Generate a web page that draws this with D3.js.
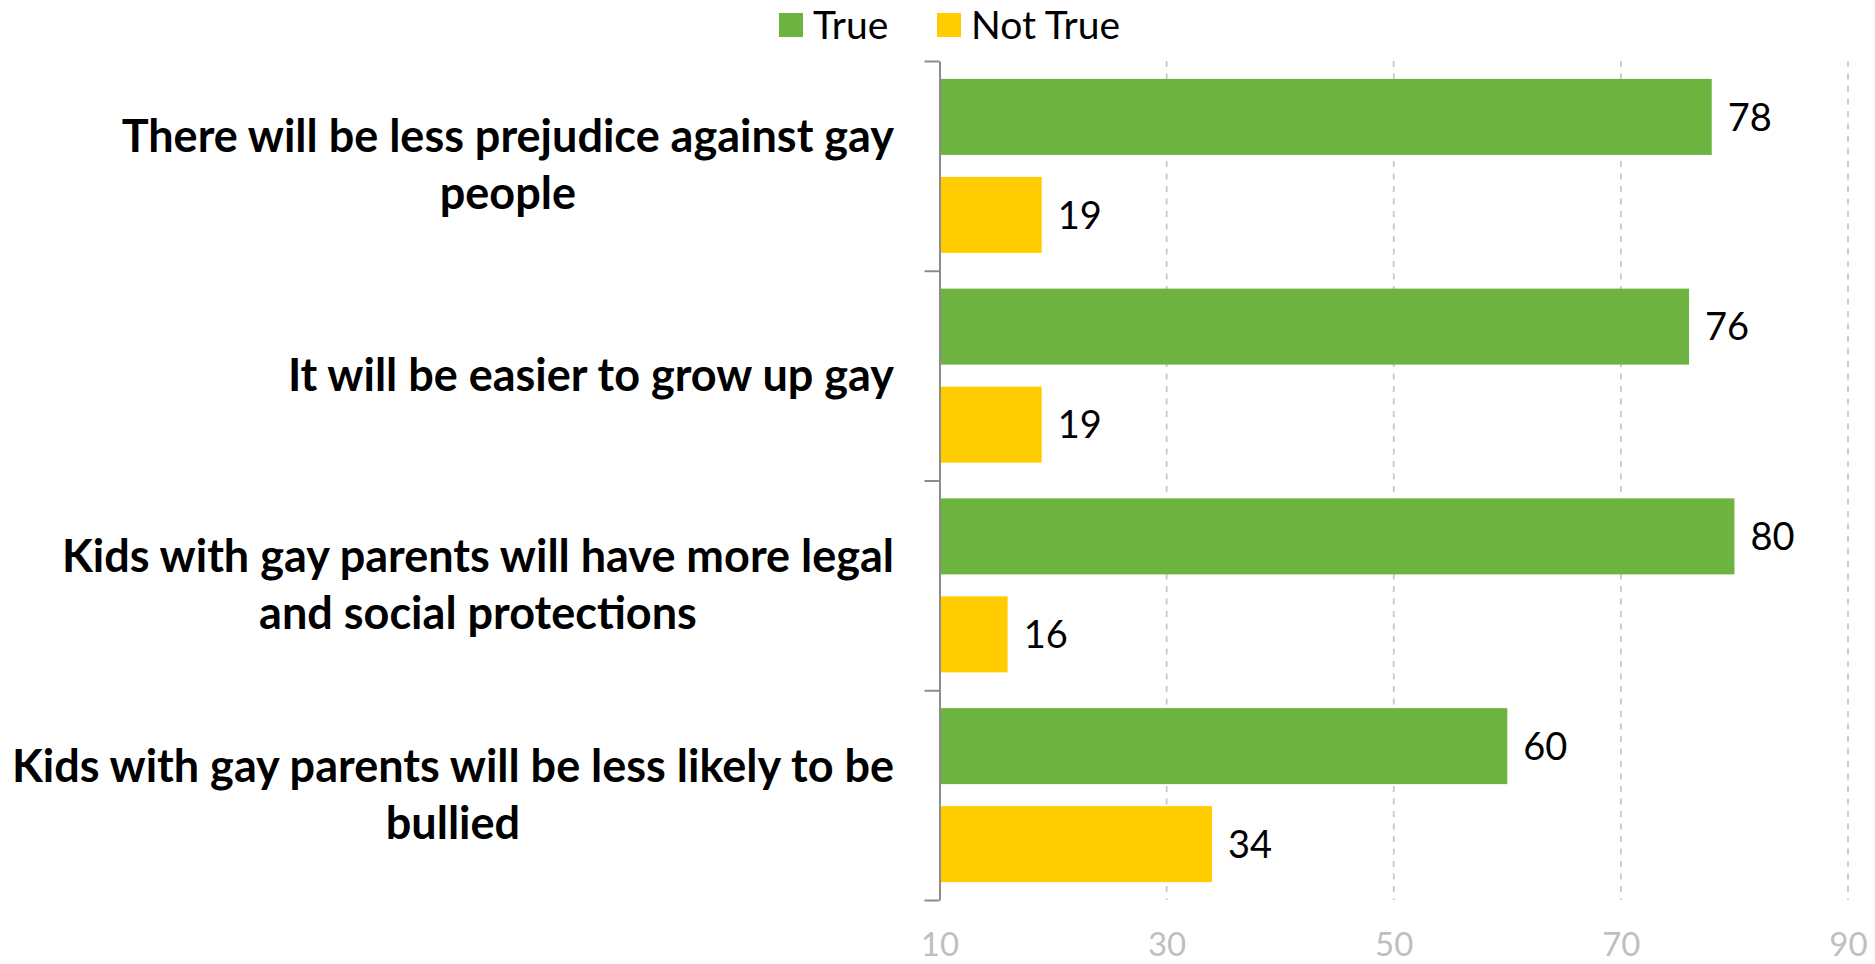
<!DOCTYPE html>
<html>
<head>
<meta charset="utf-8">
<script src="https://cdn.jsdelivr.net/npm/d3@7"></script>
<style>
  html, body { margin: 0; padding: 0; background: #ffffff; }
  svg { display: block; }
</style>
</head>
<body>
<svg id="chart" width="1875" height="964"></svg>
<script>
// ---- data ----
const categories = [
  "There will be less prejudice against gay people",
  "It will be easier to grow up gay",
  "Kids with gay parents will have more legal and social protections",
  "Kids with gay parents will be less likely to be bullied"
];
const categoryLines = [
  ["There will be less prejudice against gay", "people"],
  ["It will be easier to grow up gay"],
  ["Kids with gay parents will have more legal", "and social protections"],
  ["Kids with gay parents will be less likely to be", "bullied"]
];
const seriesNames = ["True", "Not True"];
const trueValues = [78, 76, 80, 60];
const notTrueValues = [19, 19, 16, 34];
const xTicks = [10, 30, 50, 70, 90];
const colors = ["#6db33f", "#ffcc00"];

// ---- layout ----
const svg = d3.select("#chart");
const plotTop = 61, plotBottom = 900, plotLeft = 939.5, plotRight = 1848;
const labelFont = "Lato, 'Open Sans', sans-serif";

const x = d3.scaleLinear().domain([10, 90]).range([plotLeft, plotRight]);
const y = d3.scaleBand().domain(categories).range([plotTop, plotBottom]).padding(0);
const ySub = d3.scaleBand().domain(seriesNames).range([0, y.bandwidth()])
  .paddingInner(0.2245).paddingOuter(0.1824);

const rows = categories.map((c, i) => ({
  cat: c, lines: categoryLines[i],
  vals: [
    { s: seriesNames[0], v: trueValues[i] },
    { s: seriesNames[1], v: notTrueValues[i] }
  ]
}));

// gridlines
svg.append("g")
  .selectAll("line")
  .data(xTicks.slice(1))
  .join("line")
  .attr("x1", d => x(d)).attr("x2", d => x(d))
  .attr("y1", plotTop).attr("y2", plotBottom)
  .attr("stroke", "#c6c6c6")
  .attr("stroke-width", 1.75)
  .attr("stroke-dasharray", "6,6.5");

// bars
const grp = svg.append("g").selectAll("g")
  .data(rows).join("g")
  .attr("transform", d => `translate(0,${y(d.cat)})`);

grp.selectAll("rect")
  .data(d => d.vals).join("rect")
  .attr("x", x(10))
  .attr("y", d => ySub(d.s))
  .attr("width", d => x(d.v) - x(10))
  .attr("height", ySub.bandwidth())
  .attr("fill", (d, i) => colors[i]);

grp.selectAll("text.val")
  .data(d => d.vals).join("text")
  .attr("class", "val")
  .attr("x", d => x(d.v) + 16)
  .attr("y", d => ySub(d.s) + ySub.bandwidth() / 2)
  .attr("dy", "0.36em")
  .attr("font-family", labelFont)
  .attr("font-size", 38)
  .attr("fill", "#000")
  .text(d => d.v);

// left axis (category boundaries)
const yEdges = d3.scaleLinear().domain([0, categories.length]).range([plotTop, plotBottom]);
const leftAxis = svg.append("g")
  .attr("transform", `translate(${plotLeft},0)`)
  .call(d3.axisLeft(yEdges).tickValues(d3.range(categories.length + 1))
    .tickFormat("").tickSizeInner(15).tickSizeOuter(0));
leftAxis.select(".domain").attr("stroke", "#8c8c8c").attr("stroke-width", 2);
leftAxis.selectAll(".tick line").attr("stroke", "#8c8c8c").attr("stroke-width", 2);

// bottom axis labels
const bottomAxis = svg.append("g")
  .attr("transform", `translate(0,${plotBottom})`)
  .call(d3.axisBottom(x).tickValues(xTicks).tickSize(0).tickFormat(d3.format("d")));
bottomAxis.select(".domain").remove();
bottomAxis.selectAll("text")
  .attr("y", 56).attr("dy", 0)
  .attr("font-family", labelFont)
  .attr("font-size", 33)
  .attr("fill", "#bfbfbf");

// category labels
const labelRight = 894;
const lineH = 57;
const catG = svg.append("g");
rows.forEach(r => {
  const cy = y(r.cat) + y.bandwidth() / 2;
  const t = catG.append("text")
    .attr("font-family", labelFont)
    .attr("font-weight", "bold")
    .attr("font-size", 45)
    .attr("text-anchor", "middle")
    .attr("fill", "#000");
  const n = r.lines.length;
  const spans = r.lines.map((ln, i) => t.append("tspan")
    .attr("y", cy - (n - 1) * lineH / 2 + 15 + i * lineH)
    .text(ln));
  const maxW = d3.max(spans, s => s.node().getComputedTextLength());
  spans.forEach(s => s.attr("x", labelRight - maxW / 2));
});

// legend
const legendX = [779, 937];
const legend = svg.append("g").selectAll("g")
  .data(seriesNames).join("g")
  .attr("transform", (d, i) => `translate(${legendX[i]},13)`);
legend.append("rect")
  .attr("width", 24).attr("height", 24)
  .attr("fill", (d, i) => colors[i]);
legend.append("text")
  .attr("x", 34).attr("y", 26)
  .attr("font-family", labelFont)
  .attr("font-size", 39)
  .attr("fill", "#000")
  .text(d => d);
</script>
</body>
</html>
